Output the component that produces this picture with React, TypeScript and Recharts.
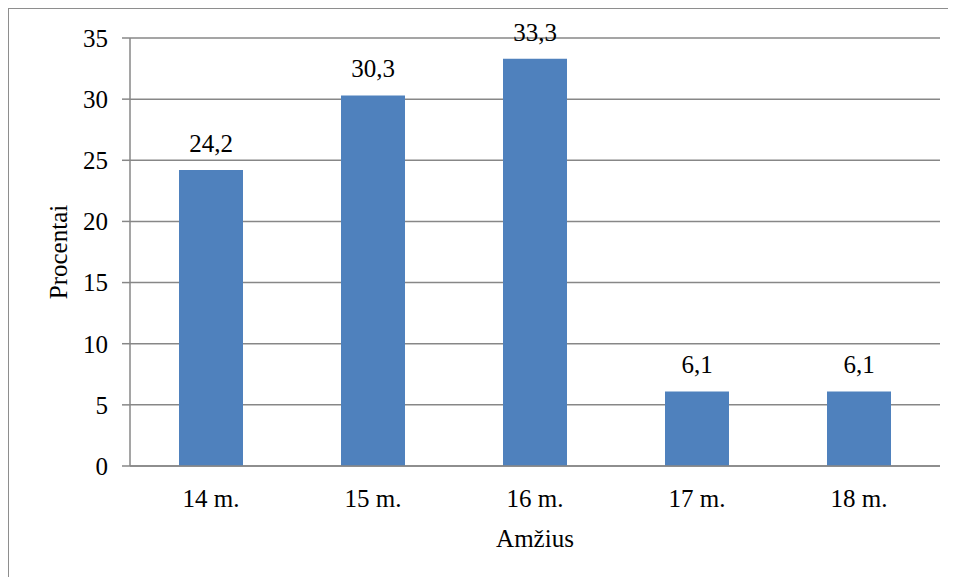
import { BarChart, Bar, XAxis, YAxis, CartesianGrid, LabelList, Label } from 'recharts';

const ages = ['14 m.', '15 m.', '16 m.', '17 m.', '18 m.'];
const percents = [24.2, 30.3, 33.3, 6.1, 6.1];
const yTicks = [0, 5, 10, 15, 20, 25, 30, 35];

const data = ages.map((age, i) => ({ age, value: percents[i] }));

const FONT = '"Liberation Serif", "Times New Roman", serif';
const GRID = '#878787';
const fmt = (v: number) => v.toFixed(1).replace('.', ',');

export default function App() {
  return (
    <div
      style={{
        width: 947,
        height: 568,
        borderTop: '1px solid #8e8e8e',
        borderLeft: '1px solid #8e8e8e',
        fontFamily: FONT,
      }}
    >
      <BarChart
        width={947}
        height={568}
        data={data}
        margin={{ top: 29, right: 16, bottom: 30, left: 0 }}
        barSize={64}
      >
        <CartesianGrid vertical={false} stroke={GRID} strokeWidth={1.5} />
        <XAxis
          dataKey="age"
          height={81}
          axisLine={{ stroke: GRID, strokeWidth: 1.5 }}
          tickLine={false}
          tickSize={8}
          tickMargin={15}
          tick={{ fill: '#000', fontSize: 25, fontFamily: FONT }}
        >
          <Label
            value="Amžius"
            position="insideBottom"
            offset={0}
            style={{ fill: '#000', fontSize: 25, fontFamily: FONT }}
          />
        </XAxis>
        <YAxis
          width={121}
          domain={[0, 35]}
          ticks={yTicks}
          interval={0}
          axisLine={{ stroke: GRID, strokeWidth: 1.5 }}
          tickLine={{ stroke: GRID, strokeWidth: 1.5 }}
          tickSize={8}
          tickMargin={14}
          tick={{ fill: '#000', fontSize: 25, fontFamily: FONT }}
        >
          <Label
            content={({ viewBox }: any) => {
              const cx = viewBox.x + 49;
              const cy = viewBox.y + viewBox.height / 2;
              return (
                <text
                  x={cx}
                  y={cy}
                  transform={`rotate(-90 ${cx} ${cy})`}
                  textAnchor="middle"
                  dominantBaseline="central"
                  fill="#000"
                  fontSize={25}
                  fontFamily={FONT}
                >
                  Procentai
                </text>
              );
            }}
          />
        </YAxis>
        <Bar dataKey="value" fill="#4F81BD" isAnimationActive={false}>
          <LabelList
            dataKey="value"
            position="top"
            offset={18}
            formatter={(v: any) => fmt(Number(v))}
            style={{ fill: '#000', fontSize: 25, fontFamily: FONT }}
          />
        </Bar>
      </BarChart>
    </div>
  );
}
